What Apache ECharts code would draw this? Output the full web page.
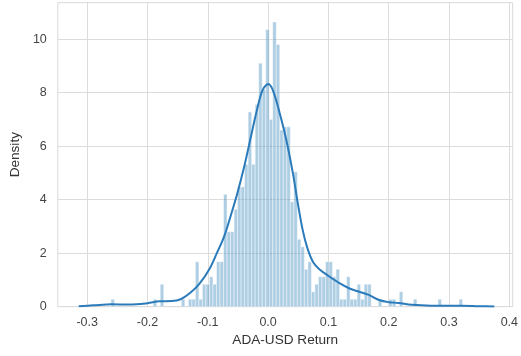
<!DOCTYPE html>
<html>
<head>
<meta charset="utf-8">
<script src="https://cdn.jsdelivr.net/npm/echarts@6/dist/echarts.min.js"></script>
<style>html,body{margin:0;padding:0;background:#fff}#c{width:521px;height:356px}</style>
</head>
<body>
<div id="c"></div>
<script>
// Histogram: 100 bins, first bin left edge and width
const binStart = -0.2605;
const binWidth = 0.00583;
// density height of each bin
const binHeights = [
  0.28,0,0,0,0,0,0,0,0,0,
  0,0,0.28,0,0.84,0,0,0,0,0,
  0.28,0,0.28,0.28,1.68,0.28,0.84,0.84,1.12,0.84,
  1.68,1.68,4.2,2.8,2.8,3.64,4.48,4.48,5.32,7.28,
  5.32,7.56,9.1,8.12,10.36,7.0,10.64,9.8,6.6,6.72,
  6.72,3.92,5.04,2.52,2.24,1.4,1.68,0.56,0.84,1.12,
  1.12,1.68,1.68,1.12,1.4,0.28,0.28,1.12,0.28,0.28,
  0.84,0.28,0.84,0.84,0,0,0.28,0,0,0.28,
  0.28,0,0.56,0,0,0,0.28,0,0,0,
  0,0,0,0.28,0,0,0,0,0,0.28
];
// KDE curve points
const kdeX = [-0.314,-0.29,-0.26,-0.23,-0.2,-0.18,-0.16,-0.145,-0.13,-0.114,-0.097,-0.085,-0.073,-0.062,-0.051,-0.04,-0.03,-0.019,-0.009,0.0005,0.0086,0.019,0.03,0.041,0.049,0.057,0.065,0.075,0.086,0.1,0.119,0.135,0.151,0.167,0.184,0.2,0.216,0.238,0.27,0.32,0.35,0.375];
const kdeY = [0.02,0.05,0.09,0.08,0.13,0.2,0.21,0.28,0.5,0.85,1.42,2.0,2.62,3.4,4.24,5.2,6.2,7.3,8.1,8.32,8.05,7.25,6.25,5.0,3.9,2.9,2.2,1.65,1.38,1.15,0.87,0.68,0.56,0.44,0.25,0.17,0.14,0.07,0.04,0.04,0.02,0.01];
const xTicks = [-0.3,-0.2,-0.1,0.0,0.1,0.2,0.3,0.4];
const yTicks = [0,2,4,6,8,10];
const xLimits = [-0.3487, 0.4055];
const yLimits = [0, 11.36];

const histData = binHeights.map((h,i)=>[binStart+i*binWidth, binStart+(i+1)*binWidth, h]).filter(d=>d[2]>0);
const kdeData = kdeX.map((x,i)=>[x,kdeY[i]]);

const font = 'Liberation Sans, Arial, sans-serif';
const chart = echarts.init(document.getElementById('c'));
chart.setOption({
  animation:false,
  backgroundColor:'#fff',
  grid:{left:51.7,right:4.3,top:2.7,bottom:49.3,show:true,borderColor:'#d9d9d9',borderWidth:1},
  xAxis:{type:'value',min:xLimits[0],max:xLimits[1],
    name:'ADA-USD Return',nameLocation:'middle',nameGap:27,
    nameTextStyle:{fontFamily:font,fontSize:13.6,color:'#333'},
    axisLine:{show:false},axisTick:{show:false,customValues:xTicks},
    axisLabel:{customValues:xTicks,fontFamily:font,fontSize:12.5,color:'#444',margin:9,
      formatter:v=>v.toFixed(1)},
    splitLine:{show:true,lineStyle:{color:'#dcdcdc',width:1}}},
  yAxis:{type:'value',min:yLimits[0],max:yLimits[1],
    name:'Density',nameLocation:'middle',nameGap:33,
    nameTextStyle:{fontFamily:font,fontSize:13.6,color:'#333'},
    axisLine:{show:false},axisTick:{show:false,customValues:yTicks},
    axisLabel:{customValues:yTicks,fontFamily:font,fontSize:12.5,color:'#444',margin:11},
    splitLine:{show:true,lineStyle:{color:'#dcdcdc',width:1}}},
  series:[
    {type:'custom',data:histData,encode:{x:[0,1],y:2},z:2,
     renderItem:function(params,api){
       const p0=api.coord([api.value(0),api.value(2)]);
       const p1=api.coord([api.value(1),0]);
       return {type:'rect',shape:{x:p0[0],y:p0[1],width:p1[0]-p0[0],height:p1[1]-p0[1]},
         style:{fill:'rgba(31,119,180,0.36)',stroke:'rgba(255,255,255,0.9)',lineWidth:0.5}};
     }},
    {type:'line',data:kdeData,smooth:0.35,showSymbol:false,z:3,
     lineStyle:{color:'#2b7bba',width:2},itemStyle:{color:'#2b7bba'}}
  ]
});
</script>
</body>
</html>
